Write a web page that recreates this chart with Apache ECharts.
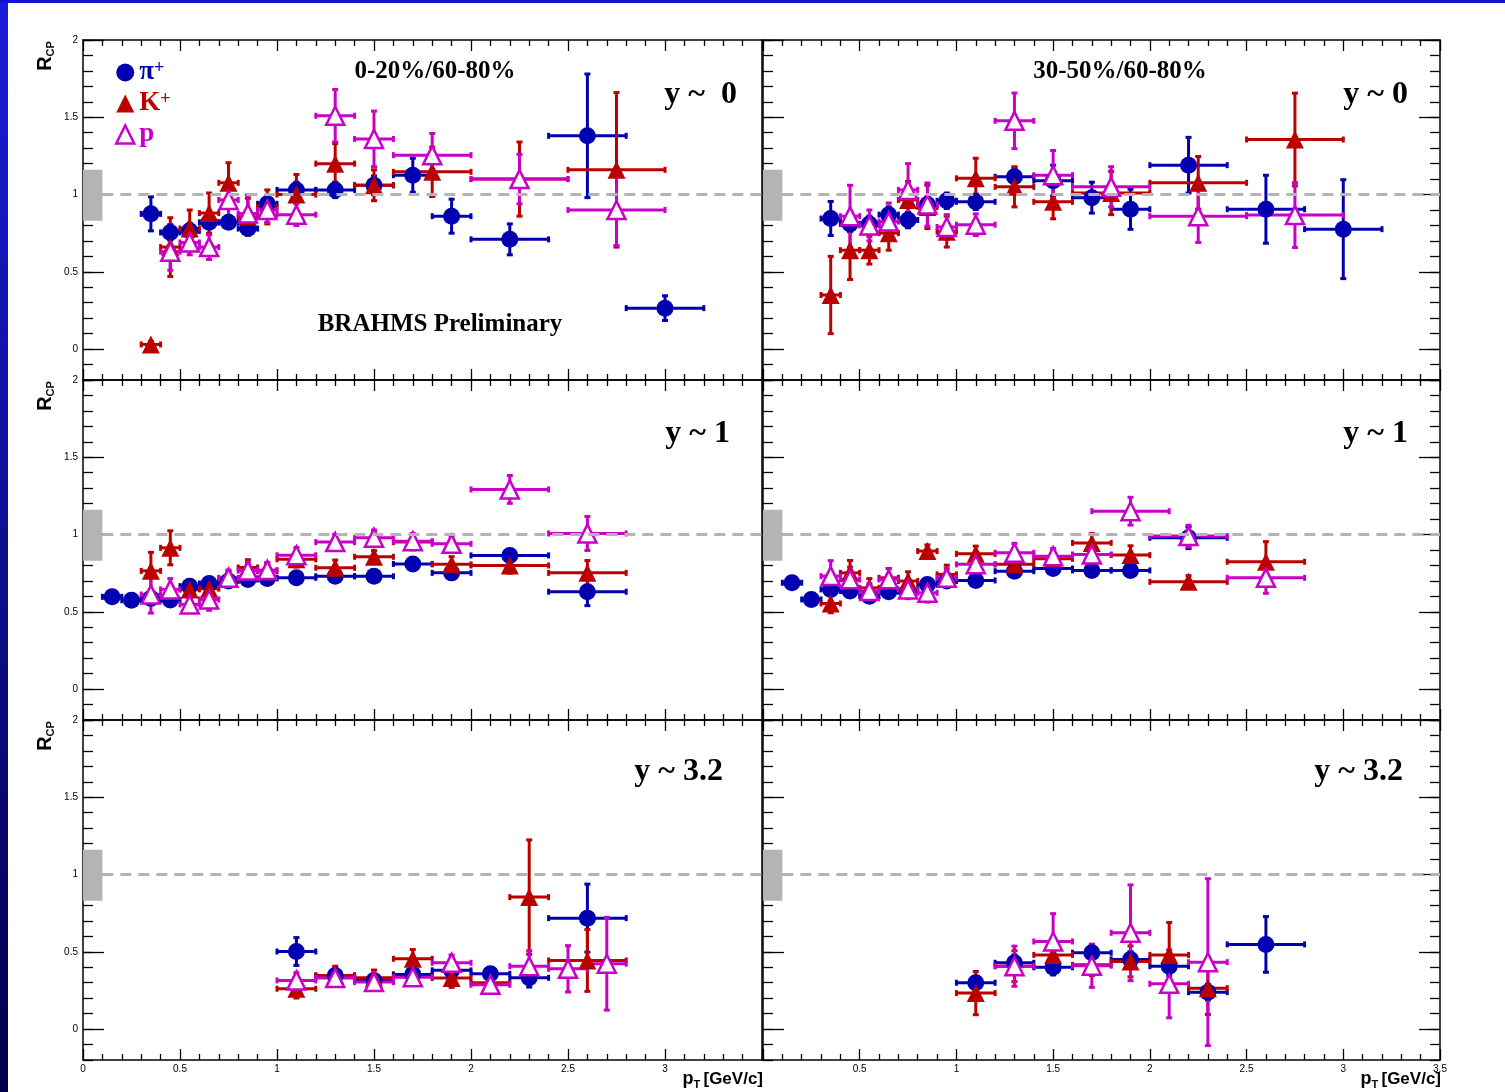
<!DOCTYPE html>
<html>
<head>
<meta charset="utf-8">
<title>RCP BRAHMS</title>
<script src="https://cdn.jsdelivr.net/npm/echarts@6/dist/echarts.min.js"></script>
<style>
html,body{margin:0;padding:0;background:#fff;}
#main{width:1505px;height:1092px;}
</style>
</head>
<body>
<div id="main"></div>
<script>
// rows are [pT, Rcp, pT half-width, Rcp error]

// 0-20%/60-80%, y~0
var pi_c020_y0 = [[0.35,0.875,0.05,0.11],[0.45,0.755,0.05,0.05],[0.55,0.765,0.05,0.05],[0.65,0.82,0.05,0.04],[0.75,0.82,0.05,0.04],[0.85,0.78,0.05,0.04],[0.95,0.94,0.05,0.05],[1.1,1.03,0.1,0.05],[1.3,1.03,0.1,0.05],[1.5,1.06,0.1,0.06],[1.7,1.125,0.1,0.11],[1.9,0.86,0.1,0.11],[2.2,0.71,0.2,0.1],[2.6,1.38,0.2,0.4],[3.0,0.265,0.2,0.08]];
var k_c020_y0 = [[0.35,0.03,0.05,0.02],[0.45,0.66,0.05,0.19],[0.55,0.78,0.05,0.12],[0.65,0.88,0.05,0.13],[0.75,1.076,0.05,0.13],[0.85,0.856,0.05,0.12],[0.95,0.92,0.05,0.11],[1.1,1.0,0.1,0.13],[1.3,1.2,0.1,0.13],[1.5,1.06,0.1,0.1],[1.8,1.147,0.2,0.16],[2.25,1.1,0.25,0.24],[2.75,1.16,0.25,0.5]];
var p_c020_y0 = [[0.45,0.63,0.05,0.12],[0.55,0.69,0.05,0.08],[0.65,0.66,0.05,0.08],[0.75,0.965,0.05,0.1],[0.85,0.877,0.05,0.12],[0.95,0.9,0.05,0.08],[1.1,0.87,0.1,0.07],[1.3,1.51,0.1,0.17],[1.5,1.36,0.1,0.18],[1.8,1.255,0.2,0.14],[2.25,1.1,0.25,0.16],[2.75,0.9,0.25,0.23]];

// 30-50%/60-80%, y~0
var pi_c3050_y0 = [[0.35,0.845,0.05,0.11],[0.45,0.81,0.05,0.05],[0.55,0.81,0.05,0.05],[0.65,0.87,0.05,0.05],[0.75,0.835,0.05,0.05],[0.85,0.935,0.05,0.05],[0.95,0.96,0.05,0.05],[1.1,0.953,0.1,0.05],[1.3,1.115,0.1,0.06],[1.5,1.09,0.1,0.1],[1.7,0.98,0.1,0.1],[1.9,0.905,0.1,0.13],[2.2,1.19,0.2,0.18],[2.6,0.905,0.2,0.22],[3.0,0.776,0.2,0.32]];
var k_c3050_y0 = [[0.35,0.35,0.05,0.25],[0.45,0.64,0.05,0.19],[0.55,0.64,0.05,0.09],[0.65,0.75,0.05,0.11],[0.75,0.965,0.05,0.12],[0.85,0.92,0.05,0.14],[0.95,0.76,0.05,0.1],[1.1,1.105,0.1,0.13],[1.3,1.05,0.1,0.13],[1.5,0.953,0.1,0.11],[1.8,1.01,0.2,0.14],[2.25,1.076,0.25,0.17],[2.75,1.356,0.25,0.3]];
var p_c3050_y0 = [[0.45,0.86,0.05,0.2],[0.55,0.8,0.05,0.1],[0.65,0.825,0.05,0.12],[0.75,1.03,0.05,0.17],[0.85,0.935,0.05,0.14],[0.95,0.79,0.05,0.08],[1.1,0.805,0.1,0.07],[1.3,1.477,0.1,0.18],[1.5,1.125,0.1,0.16],[1.8,1.05,0.2,0.13],[2.25,0.86,0.25,0.17],[2.75,0.867,0.25,0.21]];

// 0-20%/60-80%, y~1
var pi_c020_y1 = [[0.15,0.597,0.05,0.02],[0.25,0.575,0.05,0.02],[0.35,0.587,0.05,0.02],[0.45,0.577,0.05,0.02],[0.55,0.666,0.05,0.02],[0.65,0.683,0.05,0.02],[0.75,0.7,0.05,0.02],[0.85,0.709,0.05,0.02],[0.95,0.716,0.05,0.02],[1.1,0.72,0.1,0.03],[1.3,0.73,0.1,0.03],[1.5,0.73,0.1,0.03],[1.7,0.81,0.1,0.03],[1.9,0.752,0.1,0.04],[2.2,0.865,0.2,0.04],[2.6,0.63,0.2,0.09]];
var k_c020_y1 = [[0.35,0.765,0.05,0.12],[0.45,0.914,0.05,0.11],[0.55,0.645,0.05,0.06],[0.65,0.65,0.05,0.06],[0.75,0.715,0.05,0.05],[0.85,0.787,0.05,0.05],[0.95,0.763,0.05,0.05],[1.1,0.84,0.1,0.05],[1.3,0.785,0.1,0.05],[1.5,0.856,0.1,0.04],[1.7,0.951,0.1,0.05],[1.9,0.807,0.1,0.05],[2.2,0.8,0.2,0.05],[2.6,0.752,0.2,0.08]];
var p_c020_y1 = [[0.35,0.612,0.05,0.12],[0.45,0.645,0.05,0.07],[0.55,0.548,0.05,0.05],[0.65,0.58,0.05,0.07],[0.75,0.72,0.05,0.05],[0.85,0.767,0.05,0.05],[0.95,0.77,0.05,0.05],[1.1,0.866,0.1,0.05],[1.3,0.951,0.1,0.05],[1.5,0.979,0.1,0.05],[1.7,0.957,0.1,0.05],[1.9,0.94,0.1,0.05],[2.2,1.292,0.2,0.09],[2.6,1.007,0.2,0.11]];

// 30-50%/60-80%, y~1
var pi_c3050_y1 = [[0.15,0.688,0.05,0.02],[0.25,0.58,0.05,0.02],[0.35,0.645,0.05,0.03],[0.45,0.634,0.05,0.03],[0.55,0.6,0.05,0.03],[0.65,0.63,0.05,0.03],[0.75,0.634,0.05,0.03],[0.85,0.677,0.05,0.03],[0.95,0.699,0.05,0.03],[1.1,0.703,0.1,0.03],[1.3,0.763,0.1,0.03],[1.5,0.78,0.1,0.03],[1.7,0.768,0.1,0.03],[1.9,0.768,0.1,0.04],[2.2,0.979,0.2,0.07]];
var k_c3050_y1 = [[0.35,0.554,0.05,0.06],[0.45,0.752,0.05,0.08],[0.55,0.655,0.05,0.06],[0.65,0.72,0.05,0.06],[0.75,0.699,0.05,0.06],[0.85,0.893,0.05,0.04],[0.95,0.742,0.05,0.06],[1.1,0.875,0.1,0.05],[1.3,0.807,0.1,0.05],[1.5,0.843,0.1,0.05],[1.7,0.946,0.1,0.06],[1.9,0.867,0.1,0.06],[2.2,0.694,0.2,0.04],[2.6,0.824,0.2,0.13]];
var p_c3050_y1 = [[0.35,0.731,0.05,0.1],[0.45,0.71,0.05,0.08],[0.55,0.634,0.05,0.05],[0.65,0.71,0.05,0.07],[0.75,0.645,0.05,0.06],[0.85,0.623,0.05,0.06],[0.95,0.72,0.05,0.06],[1.1,0.807,0.1,0.06],[1.3,0.882,0.1,0.06],[1.5,0.86,0.1,0.05],[1.7,0.871,0.1,0.06],[1.9,1.151,0.2,0.09],[2.2,0.99,0.2,0.07],[2.6,0.72,0.2,0.1]];

// 0-20%/60-80%, y~3.2
var pi_c020_y3 = [[1.1,0.502,0.1,0.09],[1.3,0.347,0.1,0.04],[1.5,0.315,0.1,0.03],[1.7,0.354,0.1,0.04],[1.9,0.38,0.1,0.04],[2.1,0.358,0.1,0.04],[2.3,0.332,0.1,0.06],[2.6,0.718,0.2,0.22]];
var k_c020_y3 = [[1.1,0.261,0.1,0.06],[1.3,0.347,0.1,0.06],[1.5,0.332,0.1,0.05],[1.7,0.455,0.1,0.06],[1.9,0.33,0.1,0.06],[2.1,0.3,0.1,0.05],[2.3,0.854,0.1,0.37],[2.6,0.444,0.2,0.2]];
var p_c020_y3 = [[1.1,0.315,0.1,0.05],[1.3,0.33,0.1,0.04],[1.5,0.304,0.1,0.03],[1.7,0.336,0.1,0.05],[1.9,0.429,0.1,0.05],[2.1,0.287,0.1,0.04],[2.3,0.407,0.1,0.1],[2.5,0.39,0.1,0.15],[2.7,0.423,0.1,0.3]];

// 30-50%/60-80%, y~3.2
var pi_c3050_y3 = [[1.1,0.3,0.1,0.04],[1.3,0.429,0.1,0.05],[1.5,0.4,0.1,0.05],[1.7,0.494,0.1,0.05],[1.9,0.451,0.1,0.05],[2.1,0.407,0.1,0.06],[2.3,0.239,0.1,0.05],[2.6,0.548,0.2,0.18]];
var k_c3050_y3 = [[1.1,0.233,0.1,0.14],[1.3,0.407,0.1,0.1],[1.5,0.48,0.1,0.08],[1.7,0.416,0.1,0.07],[1.9,0.438,0.1,0.1],[2.1,0.48,0.1,0.21],[2.3,0.265,0.1,0.17]];
var p_c3050_y3 = [[1.3,0.407,0.1,0.13],[1.5,0.567,0.1,0.18],[1.7,0.41,0.1,0.14],[1.9,0.623,0.1,0.31],[2.1,0.293,0.1,0.22],[2.3,0.433,0.1,0.54]];

// normalisation uncertainty box at pT=0 and the unity line
var normBand = [0.83, 1.16];
var normBandWidth = 0.1;
var unity = 1;

var yMajorTicks = [0, 0.5, 1, 1.5, 2];
var rapLabels = ['y ~  0', 'y ~ 0', 'y ~ 1', 'y ~ 1', 'y ~ 3.2', 'y ~ 3.2'];
var centLabels = ['0-20%/60-80%', '30-50%/60-80%'];

var panels = [
    {pi: pi_c020_y0, k: k_c020_y0, p: p_c020_y0},
    {pi: pi_c3050_y0, k: k_c3050_y0, p: p_c3050_y0},
    {pi: pi_c020_y1, k: k_c020_y1, p: p_c020_y1},
    {pi: pi_c3050_y1, k: k_c3050_y1, p: p_c3050_y1},
    {pi: pi_c020_y3, k: k_c020_y3, p: p_c020_y3},
    {pi: pi_c3050_y3, k: k_c3050_y3, p: p_c3050_y3}
];

var BLUE = '#0000b0', RED = '#bb0000', MAG = '#c800c8';
var colLeft = [83, 763], colWidth = [679, 677];
var rowTop = [40, 380, 720], rowHeight = 340;
var SERIF = '"Liberation Serif", "DejaVu Serif", serif';
var SANS = '"Liberation Sans", Arial, sans-serif';

var chart = echarts.init(document.getElementById('main'));

var tickStyle = {color: '#000', width: 1.3};

function xAx(i, pos, labels, c) {
    return {
        type: 'value', gridIndex: i, position: pos, min: 0, max: 3.5, interval: 0.5,
        axisLine: {show: true, onZero: false, lineStyle: {color: '#000', width: 1.5}},
        axisTick: {show: true, inside: true, length: 11, lineStyle: tickStyle},
        minorTick: {show: true, splitNumber: 5, length: 6, lineStyle: tickStyle},
        splitLine: {show: false}, minorSplitLine: {show: false},
        axisLabel: {
            show: labels, margin: 4, fontSize: 10, fontFamily: SANS, color: '#000',
            formatter: function (v) {
                if (c === 0 && v === 3.5) return '';
                if (c === 1 && v === 0) return '';
                return String(v);
            }
        }
    };
}
function yMinor(i, pos, ticks) {
    return {
        type: 'value', gridIndex: i, position: pos, min: -0.2, max: 2, interval: 0.1,
        axisLine: {show: true, onZero: false, lineStyle: {color: '#000', width: 1.5}},
        axisTick: {show: ticks, inside: true, length: 10, lineStyle: tickStyle},
        axisLabel: {show: false}, splitLine: {show: false}
    };
}
function yMajor(i, pos, ticks, labels) {
    return {
        type: 'value', gridIndex: i, position: pos, min: -0.2, max: 2,
        axisLine: {show: false, onZero: false},
        axisTick: {show: ticks, inside: true, length: 21, customValues: yMajorTicks, lineStyle: tickStyle},
        axisLabel: {show: labels, customValues: yMajorTicks, margin: 5, fontSize: 10, fontFamily: SANS, color: '#000'},
        splitLine: {show: false}
    };
}

function makeErr(color) {
    return function (params, api) {
        var x = api.value(0), y = api.value(1), ex = api.value(2), ey = api.value(3);
        var l = api.coord([x - ex, y]), r = api.coord([x + ex, y]);
        var b = api.coord([x, y - ey]), t = api.coord([x, y + ey]);
        var st = {stroke: color, lineWidth: 3, fill: null};
        var c = 3;
        return {
            type: 'group',
            children: [
                {type: 'line', shape: {x1: l[0], y1: l[1], x2: r[0], y2: r[1]}, style: st},
                {type: 'line', shape: {x1: b[0], y1: b[1], x2: t[0], y2: t[1]}, style: st},
                {type: 'line', shape: {x1: l[0], y1: l[1] - c, x2: l[0], y2: l[1] + c}, style: st},
                {type: 'line', shape: {x1: r[0], y1: r[1] - c, x2: r[0], y2: r[1] + c}, style: st},
                {type: 'line', shape: {x1: b[0] - c, y1: b[1], x2: b[0] + c, y2: b[1]}, style: st},
                {type: 'line', shape: {x1: t[0] - c, y1: t[1], x2: t[0] + c, y2: t[1]}, style: st}
            ]
        };
    };
}

var grids = [], xAxes = [], yAxes = [], series = [];
for (var i = 0; i < 6; i++) {
    var r = Math.floor(i / 2), c = i % 2;
    grids.push({left: colLeft[c], top: rowTop[r], width: colWidth[c], height: rowHeight, containLabel: false, outerBoundsMode: 'none'});
    xAxes.push(xAx(i, 'bottom', r === 2, c));
    xAxes.push(xAx(i, 'top', false, c));
    yAxes.push(yMinor(i, 'left', true));
    yAxes.push(yMajor(i, 'left', true, c === 0));
    yAxes.push(yMinor(i, 'right', c === 1));
    yAxes.push(yMajor(i, 'right', c === 1, false));

    var pn = panels[i];
    var sets = [
        {name: 'π+', data: pn.pi, color: BLUE, symbol: 'circle', size: 17, item: {color: BLUE}},
        {name: 'K+', data: pn.k, color: RED, symbol: 'triangle', size: 18, item: {color: RED}},
        {name: 'p', data: pn.p, color: MAG, symbol: 'triangle', size: 18, item: {color: '#fff', borderColor: MAG, borderWidth: 2.5}}
    ];
    for (var j = 0; j < sets.length; j++) {
        var s = sets[j];
        var err = {
            type: 'custom', name: s.name + ' err', xAxisIndex: 2 * i, yAxisIndex: 4 * i,
            data: s.data, encode: {x: 0, y: 1}, renderItem: makeErr(s.color), silent: true
        };
        if (j === 0) {
            err.markArea = {
                silent: true, itemStyle: {color: '#b4b4b4'},
                data: [[{coord: [0, normBand[0]]}, {coord: [normBandWidth, normBand[1]]}]]
            };
            err.markLine = {
                silent: true, symbol: 'none', label: {show: false},
                lineStyle: {color: '#b4b4b4', type: [11, 7], width: 3},
                data: [[{coord: [normBandWidth, unity]}, {coord: [3.5, unity]}]]
            };
        }
        series.push(err);
        series.push({
            type: 'scatter', name: s.name, xAxisIndex: 2 * i, yAxisIndex: 4 * i,
            data: s.data, encode: {x: 0, y: 1}, symbol: s.symbol, symbolSize: s.size,
            itemStyle: Object.assign({opacity: 1}, s.item), silent: true
        });
    }
}

function txt(x, y, text, font, align) {
    return {type: 'text', x: x, y: y, silent: true,
        style: {text: text, font: font, fill: '#000', textAlign: align || 'center', textVerticalAlign: 'middle', align: align || 'center', verticalAlign: 'middle'}};
}

var graphics = [
    {type: 'rect', shape: {x: 0, y: 0, width: 8, height: 1092}, silent: true,
        style: {fill: new echarts.graphic.LinearGradient(0, 0, 0, 1, [{offset: 0, color: '#1c1cd8'}, {offset: 1, color: '#00004a'}])}},
    {type: 'rect', shape: {x: 0, y: 0, width: 1505, height: 3}, silent: true, style: {fill: '#1414d0'}},
    txt(435, 72, centLabels[0], 'bold 25px ' + SERIF),
    txt(1120, 72, centLabels[1], 'bold 25px ' + SERIF),
    txt(440, 325, 'BRAHMS Preliminary', 'bold 25px ' + SERIF)
];
var rapX = [737, 1408, 730, 1408, 723, 1403];
var rapY = [95, 95, 434, 434, 772, 772];
for (var q = 0; q < 6; q++) {
    graphics.push(txt(rapX[q], rapY[q], rapLabels[q], 'bold 32px ' + SERIF, 'right'));
}
for (var rr = 0; rr < 3; rr++) {
    graphics.push({
        type: 'text', x: 45, y: rowTop[rr] + 16, rotation: Math.PI / 2, silent: true,
        style: {
            text: '{r|R}{s|CP}', fill: '#000', textAlign: 'center', textVerticalAlign: 'middle', align: 'center', verticalAlign: 'middle',
            rich: {r: {font: 'bold 20px ' + SANS, lineHeight: 22}, s: {font: 'bold 11px ' + SANS, lineHeight: 22, verticalAlign: 'bottom'}}
        }
    });
}
for (var cc = 0; cc < 2; cc++) {
    graphics.push({
        type: 'text', x: colLeft[cc] + colWidth[cc] + 1, y: 1079, silent: true,
        style: {
            text: '{p|p}{t|T} {g|[GeV/c]}', fill: '#000', textAlign: 'right', textVerticalAlign: 'middle', align: 'right', verticalAlign: 'middle',
            rich: {p: {font: 'bold 18px ' + SANS, lineHeight: 22}, t: {font: 'bold 11px ' + SANS, lineHeight: 22, verticalAlign: 'bottom'}, g: {font: 'bold 17px ' + SANS, lineHeight: 22}}
        }
    });
}

var option = {
    animation: false,
    backgroundColor: '#fff',
    grid: grids,
    xAxis: xAxes,
    yAxis: yAxes,
    legend: {
        selectedMode: false, orient: 'vertical', left: 110, top: 54, itemGap: 4,
        itemWidth: 18, itemHeight: 18,
        data: [
            {name: 'π+', icon: 'circle', textStyle: {color: BLUE}},
            {name: 'K+', icon: 'triangle', textStyle: {color: RED}},
            {name: 'p', icon: 'triangle', itemStyle: {color: '#fff', borderColor: MAG, borderWidth: 2.5}, textStyle: {color: MAG}}
        ],
        formatter: function (n) {
            if (n === 'π+') return '{a|π}{s|+}';
            if (n === 'K+') return '{a|K}{s|+}';
            return '{a|p}';
        },
        textStyle: {
            fontFamily: SERIF, fontWeight: 'bold', fontSize: 26,
            rich: {
                a: {fontFamily: SERIF, fontWeight: 'bold', fontSize: 27, lineHeight: 26},
                s: {fontFamily: SERIF, fontWeight: 'bold', fontSize: 18, lineHeight: 26, verticalAlign: 'top'}
            }
        }
    },
    graphic: graphics,
    series: series
};
chart.setOption(option);
</script>
</body>
</html>
